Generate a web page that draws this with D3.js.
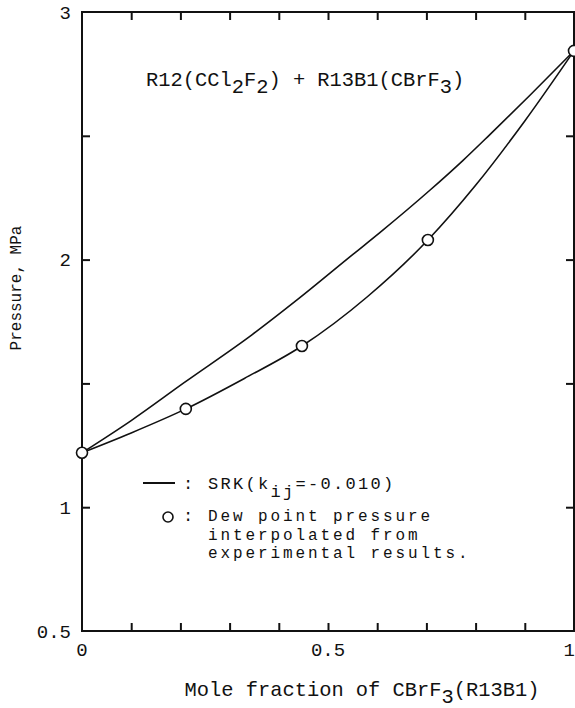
<!DOCTYPE html>
<html>
<head>
<meta charset="utf-8">
<script src="https://cdn.jsdelivr.net/npm/d3@7"></script>
<style>
  body { margin: 0; background: #fff; }
  svg { display: block; }
  text { font-family: "Liberation Mono", "DejaVu Sans Mono", monospace; fill: #111; }
</style>
</head>
<body>
<div id="main"></div>
<script>
// SRK calculated bubble curve (upper) and dew curve (lower)
const bubbleX = [0, 0.1, 0.209, 0.346, 0.437, 0.55, 0.606, 0.707, 0.774, 0.829, 0.911, 1];
const bubbleP = [1.22, 1.35, 1.505, 1.697, 1.837, 2.02, 2.11, 2.28, 2.40, 2.505, 2.665, 2.843];
const dewX = [0, 0.1, 0.211, 0.33, 0.447, 0.58, 0.703, 0.8, 0.9, 1];
const dewP = [1.22, 1.30, 1.397, 1.52, 1.651, 1.85, 2.079, 2.30, 2.56, 2.843];
// dew points interpolated from experiment
const expX = [0, 0.211, 0.447, 0.703, 1];
const expP = [1.22, 1.397, 1.651, 2.079, 2.843];
// ticks
const xTicks = [0.1, 0.2, 0.3, 0.4, 0.5, 0.6, 0.7, 0.8, 0.9];
const xLabels = [0, 0.5, 1];
const yTicks = [1, 1.5, 2, 2.5];
const yLabels = [0.5, 1, 2, 3];
const legendNotes = ['Dew point pressure', 'interpolated from', 'experimental results.'];

function main() {
  const width = 575; // svg width
  const height = 708; // svg height
  const left = 82, right = 574, top = 12, bottom = 631; // plot frame

  const svg = d3.select('#main')
    .append('svg')
    .attr('width', width)
    .attr('height', height);

  const x = d3.scaleLinear().domain([0, 1]).range([left, right]);
  const y = d3.scaleLinear().domain([0.5, 3]).range([bottom, top]);

  // inward ticks on all four sides
  const tickLen = 8;
  svg.append('g')
    .attr('transform', `translate(0,${bottom})`)
    .call(d3.axisBottom(x).tickValues(xTicks).tickSizeInner(-tickLen).tickSizeOuter(0).tickFormat(''));
  svg.append('g')
    .attr('transform', `translate(0,${top})`)
    .call(d3.axisTop(x).tickValues(xTicks).tickSizeInner(-tickLen).tickSizeOuter(0).tickFormat(''));
  svg.append('g')
    .attr('transform', `translate(${left},0)`)
    .call(d3.axisLeft(y).tickValues(yTicks).tickSizeInner(-tickLen).tickSizeOuter(0).tickFormat(''));
  svg.append('g')
    .attr('transform', `translate(${right},0)`)
    .call(d3.axisRight(y).tickValues(yTicks).tickSizeInner(-tickLen).tickSizeOuter(0).tickFormat(''));
  svg.selectAll('.domain').remove();
  svg.selectAll('.tick line').attr('stroke', '#111').attr('stroke-width', 2);

  // frame
  svg.append('rect')
    .attr('x', left).attr('y', top)
    .attr('width', right - left).attr('height', bottom - top)
    .attr('fill', 'none').attr('stroke', '#111').attr('stroke-width', 2);

  // tick labels
  svg.selectAll('.ylab')
    .data(yLabels)
    .enter()
    .append('text')
    .attr('x', left - 11)
    .attr('y', d => y(d) + 6.5)
    .attr('text-anchor', 'end')
    .attr('font-size', 19)
    .text(d => d);
  svg.selectAll('.xlab')
    .data(xLabels)
    .enter()
    .append('text')
    .attr('x', d => x(d))
    .attr('y', bottom + 25)
    .attr('text-anchor', d => d === 1 ? 'end' : 'middle')
    .attr('dx', d => d === 1 ? 1 : 0)
    .attr('font-size', 19)
    .text(d => d);

  // curves
  const line = d3.line()
    .x(d => x(d[0]))
    .y(d => y(d[1]))
    .curve(d3.curveMonotoneX);
  [d3.zip(bubbleX, bubbleP), d3.zip(dewX, dewP)].forEach(pts => {
    svg.append('path')
      .attr('d', line(pts))
      .attr('fill', 'none')
      .attr('stroke', '#111')
      .attr('stroke-width', 1.6);
  });

  // experimental points
  svg.selectAll('.pt')
    .data(d3.zip(expX, expP))
    .enter()
    .append('circle')
    .attr('cx', d => x(d[0]))
    .attr('cy', d => y(d[1]))
    .attr('r', 5.5)
    .attr('fill', '#fff')
    .attr('stroke', '#111')
    .attr('stroke-width', 1.6);

  // title inside the plot
  const title = svg.append('text')
    .attr('x', 146)
    .attr('y', 86)
    .attr('font-size', 20.4);
  title.append('tspan').text('R12(CCl');
  title.append('tspan').attr('dy', 7).text('2');
  title.append('tspan').attr('dy', -7).text('F');
  title.append('tspan').attr('dy', 7).text('2');
  title.append('tspan').attr('dy', -7).text(') + R13B1(CBrF');
  title.append('tspan').attr('dy', 7).text('3');
  title.append('tspan').attr('dy', -7).text(')');

  // legend
  svg.append('line')
    .attr('x1', 143).attr('x2', 175)
    .attr('y1', 483).attr('y2', 483)
    .attr('stroke', '#111').attr('stroke-width', 2);
  svg.append('text')
    .attr('x', 188).attr('y', 489).attr('font-size', 17)
    .attr('text-anchor', 'middle')
    .text(':');
  const lg1 = svg.append('text')
    .attr('x', 208)
    .attr('y', 489)
    .attr('font-size', 17)
    .attr('letter-spacing', 2.3);
  lg1.append('tspan').text('SRK(k');
  lg1.append('tspan').attr('dy', 8).text('ij');
  lg1.append('tspan').attr('dy', -8).text('=-0.010)');

  svg.append('circle')
    .attr('cx', 168).attr('cy', 517).attr('r', 5)
    .attr('fill', '#fff').attr('stroke', '#111').attr('stroke-width', 1.6);
  svg.append('text')
    .attr('x', 188).attr('y', 521).attr('font-size', 17)
    .attr('text-anchor', 'middle')
    .text(':');
  svg.selectAll('.lg2')
    .data(legendNotes)
    .enter()
    .append('text')
    .attr('x', 208)
    .attr('y', (d, i) => 521 + i * 18.5)
    .attr('font-size', 16)
    .attr('letter-spacing', 2.9)
    .text(d => d);

  // axis titles
  const xt = svg.append('text')
    .attr('x', 362)
    .attr('y', 696)
    .attr('text-anchor', 'middle')
    .attr('font-size', 20.4);
  xt.append('tspan').text('Mole fraction of CBrF');
  xt.append('tspan').attr('dy', 7).text('3');
  xt.append('tspan').attr('dy', -7).text('(R13B1)');

  svg.append('text')
    .attr('transform', 'translate(21,288) rotate(-90)')
    .attr('text-anchor', 'middle')
    .attr('font-size', 16)
    .text('Pressure, MPa');
}

document.addEventListener('DOMContentLoaded', main);
</script>
</body>
</html>
